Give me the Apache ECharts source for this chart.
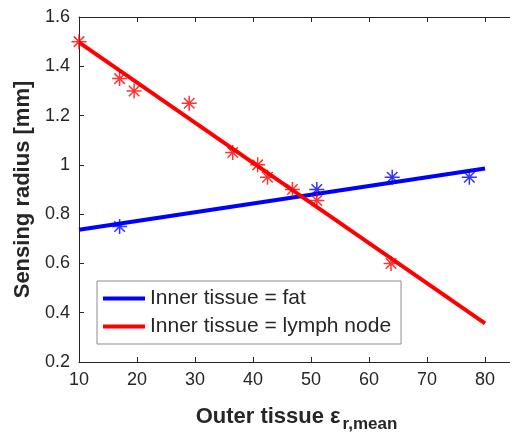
<!DOCTYPE html>
<html>
<head>
<meta charset="utf-8">
<script src="https://cdn.jsdelivr.net/npm/echarts@6/dist/echarts.min.js"></script>
<style>
  html, body { margin: 0; padding: 0; background: #fff; }
  #main { width: 510px; height: 434px; }
</style>
</head>
<body>
<div id="main"></div>
<script>
// measured points (outer tissue eps, sensing radius)
const fatX = [17, 51, 64, 77.3];
const fatY = [0.75, 0.9, 0.95, 0.95];
const lymphX = [10, 17, 19.5, 29, 36.5, 40.8, 42.5, 46.8, 51, 63.8];
const lymphY = [1.5, 1.35, 1.3, 1.25, 1.05, 1.0, 0.95, 0.9, 0.855, 0.6];
// fitted lines, ends at x = 10 and x = 80
const fitX = [10, 80];
const fatFit = [0.737, 0.985];
const lymphFit = [1.497, 0.357];

const starPath = "path://M10,0L10,20M0,10L20,10M3,3L17,17M17,3L3,17";

function pairs(xs, ys) {
  return xs.map(function (x, i) { return [x, ys[i]]; });
}

var myChart = echarts.init(document.getElementById("main"));
var font = "Liberation Sans, Arial, Helvetica, sans-serif";
var dark = "#262626";

var option = {
  animation: false,
  grid: {
    left: 79, top: 17, width: 435, height: 345,
    containLabel: false,
    outerBoundsMode: "none",
  },
  legend: {
    orient: "vertical",
    left: 97,
    top: 281,
    data: ["Inner tissue = fat", "Inner tissue = lymph node"],
    icon: "rect",
    itemWidth: 42,
    itemHeight: 4,
    itemGap: 7,
    padding: [7, 10, 7, 6],
    borderColor: "#8c8c8c",
    borderWidth: 1,
    backgroundColor: "#fff",
    textStyle: { fontFamily: font, fontSize: 21, color: dark },
  },
  xAxis: [
    {
      type: "value",
      min: 10,
      max: 85,
      interval: 10,
      position: "bottom",
      axisLine: { lineStyle: { color: dark, width: 1 } },
      axisTick: { inside: true, length: 5, lineStyle: { color: dark } },
      axisLabel: { fontFamily: font, fontSize: 18, color: dark, margin: 9, showMaxLabel: false },
      splitLine: { show: false },
      name: "{b|Outer tissue ε}{s|r,mean}",
      nameLocation: "middle",
      nameGap: 38,
      nameTextStyle: {
        rich: {
          b: { fontFamily: font, fontSize: 22, fontWeight: "bold", color: dark },
          s: { fontFamily: font, fontSize: 17, fontWeight: "bold", color: dark, padding: [16, 0, 0, 2] },
        },
      },
    },
    {
      type: "value",
      min: 10,
      max: 85,
      interval: 10,
      position: "top",
      axisLine: { lineStyle: { color: dark, width: 1 } },
      axisTick: { inside: true, length: 5, lineStyle: { color: dark } },
      axisLabel: { show: false },
      splitLine: { show: false },
    },
  ],
  yAxis: {
    type: "value",
    min: 0.2,
    max: 1.6,
    interval: 0.2,
    axisLine: { show: true, lineStyle: { color: dark, width: 1 } },
    axisTick: { show: true, inside: true, length: 5, lineStyle: { color: dark } },
    axisLabel: {
      fontFamily: font,
      fontSize: 18,
      color: dark,
      margin: 9,
      formatter: function (v) { return String(parseFloat(v.toFixed(1))); },
    },
    splitLine: { show: false },
    name: "Sensing radius [mm]",
    nameLocation: "middle",
    nameGap: 43,
    nameTextStyle: { fontFamily: font, fontSize: 22, fontWeight: "bold", color: dark },
  },
  series: [
    {
      name: "Inner tissue = fat",
      type: "line",
      data: pairs(fitX, fatFit),
      showSymbol: false,
      lineStyle: { color: "#0000ff", width: 4 },
      itemStyle: { color: "#0000ff" },
      z: 2,
    },
    {
      name: "Inner tissue = lymph node",
      type: "line",
      data: pairs(fitX, lymphFit),
      showSymbol: false,
      lineStyle: { color: "#ff0000", width: 4 },
      itemStyle: { color: "#ff0000" },
      z: 2,
    },
    {
      name: "fat points",
      type: "scatter",
      data: pairs(fatX, fatY),
      symbol: starPath,
      symbolSize: 15,
      itemStyle: { color: "#0000ff", borderColor: "#0000ff", borderWidth: 1.5 },
      z: 3,
    },
    {
      name: "lymph points",
      type: "scatter",
      data: pairs(lymphX, lymphY),
      symbol: starPath,
      symbolSize: 15,
      itemStyle: { color: "#ff0000", borderColor: "#ff0000", borderWidth: 1.5 },
      z: 3,
    },
  ],
};

myChart.setOption(option);
</script>
</body>
</html>
